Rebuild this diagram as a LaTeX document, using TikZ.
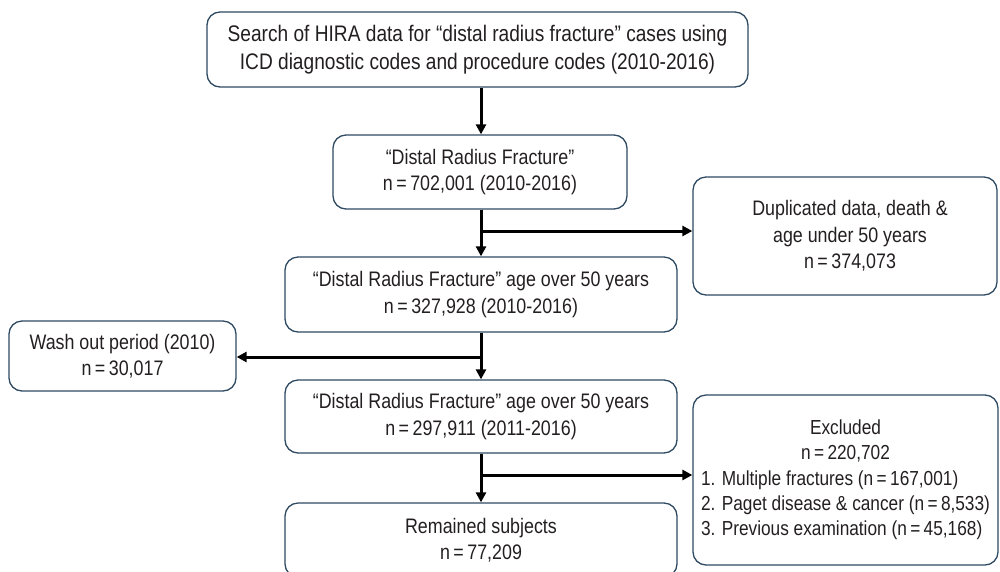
\documentclass[tikz,border=0pt]{standalone}
\usepackage{fontspec}
\setmainfont{Liberation Sans}[FakeStretch=0.85]
\usetikzlibrary{arrows.meta}
\definecolor{boxline}{HTML}{2E4A62}
\definecolor{txt}{HTML}{231F20}
\newlength\exw
\begin{document}
\begin{tikzpicture}[x=1pt,y=-1pt,
  flowbox/.style={draw=boxline, line width=1.3pt, rounded corners=13pt, align=center,
    text=txt, font=\fontsize{21}{26.5}\selectfont, inner sep=0pt, minimum width=#1},
  conn/.style={line width=3pt, -{Triangle[length=10pt,width=10pt]}}]
\useasboundingbox (0,0) rectangle (1000,571);
\clip (0,0) rectangle (1000,571);
\node[flowbox=541pt, minimum height=75pt, font=\fontsize{22.5}{28}\selectfont] (b1) at (477.5,49.5)
  {Search of HIRA data for “distal radius fracture” cases using\\ICD diagnostic codes and procedure codes (2010-2016)};
\node[flowbox=294pt, minimum height=74pt] (b2) at (480,172)
  {“Distal Radius Fracture”\\n\,=\,702,001 (2010-2016)};
\node[flowbox=392pt, minimum height=75pt] (b3) at (481,294.5)
  {“Distal Radius Fracture” age over 50 years\\n\,=\,327,928 (2010-2016)};
\node[flowbox=392pt, minimum height=73pt] (b4) at (481,416.5)
  {“Distal Radius Fracture” age over 50 years\\n\,=\,297,911 (2011-2016)};
\node[flowbox=392pt, minimum height=74pt] (b5) at (481,540)
  {Remained subjects\\n\,=\,77,209};
\node[flowbox=227pt, minimum height=70pt] (wash) at (122.5,356)
  {Wash out period (2010)\\n\,=\,30,017};
\node[flowbox=304pt, minimum height=118pt] (dup) at (845,236)
  {\hspace*{10pt}Duplicated data, death \&\\\hspace*{10pt}age under 50 years\\\hspace*{10pt}n\,=\,374,073};
\node[flowbox=305pt, minimum height=170pt, inner ysep=0pt, font=\fontsize{20.3}{25.3}\selectfont] (excl) at (845.5,480)
  {\rule{0pt}{12pt}\settowidth{\exw}{2. Paget disease \& cancer (n\,=\,8,533)}\global\exw=\exw Excluded\\n\,=\,220,702\\
   \makebox[\exw][l]{1. Multiple fractures (n\,=\,167,001)}\\
   \makebox[\exw][l]{2. Paget disease \& cancer (n\,=\,8,533)}\\
   \makebox[\exw][l]{3. Previous examination (n\,=\,45,168)}};
\coordinate (j1) at (481,231);
\coordinate (j2) at (481,357);
\coordinate (j3) at (481,475);
\draw[conn] (b1.south -| j1) -- (j1 |- b2.north);
\draw[conn] (b2.south -| j1) -- (j1 |- b3.north);
\draw[conn] (j1) -- (j1 -| dup.west);
\draw[conn] (b3.south -| j2) -- (j2 |- b4.north);
\draw[conn] (j2) -- (j2 -| wash.east);
\draw[conn] (b4.south -| j3) -- (j3 |- b5.north);
\draw[conn] (j3) -- (j3 -| excl.west);
\end{tikzpicture}
\end{document}
